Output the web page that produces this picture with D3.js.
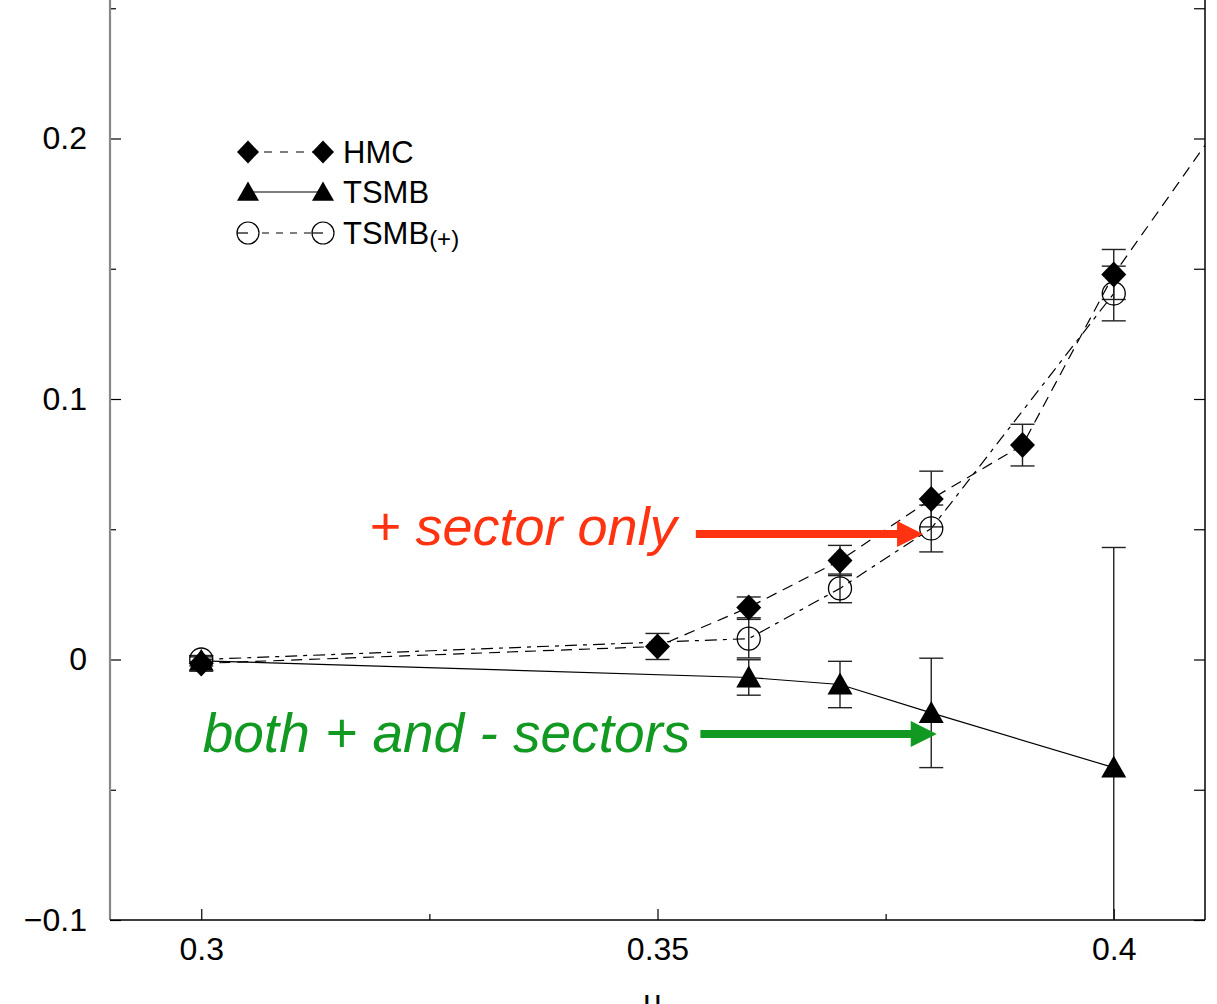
<!DOCTYPE html>
<html>
<head>
<meta charset="utf-8">
<script src="https://cdn.jsdelivr.net/npm/d3@7"></script>
<style>
body { margin: 0; background: #fff; }
svg { display: block; font-family: "Liberation Sans", Arial, Helvetica, sans-serif; }
</style>
</head>
<body>
<svg id="chart" width="1217" height="1004"></svg>
<script>
// values
const hmcX   = [0.30, 0.35, 0.36, 0.37, 0.38, 0.39, 0.40, 0.42];
const hmcY   = [-0.0015, 0.005, 0.020, 0.038, 0.0616, 0.0823, 0.1478, 0.247];
const hmcErr = [0.003, 0.005, 0.004, 0.0058, 0.0107, 0.008, 0.0096, 0];

const tsmbX   = [0.30, 0.36, 0.37, 0.38, 0.40];
const tsmbY   = [-0.0005, -0.0069, -0.0096, -0.0205, -0.0415];
const tsmbErr = [0.002, 0.0068, 0.0089, 0.021, 0.0845];

const plusX   = [0.30, 0.36, 0.37, 0.38, 0.40];
const plusY   = [0.0, 0.008, 0.0273, 0.0503, 0.1405];
const plusErr = [0.001, 0.0074, 0.0055, 0.009, 0.0105];

const xTicks = [0.3, 0.35, 0.4];
const xTickLabels = ["0.3", "0.35", "0.4"];
const xMinor = [0.325, 0.375];
const yTicks = [-0.1, 0, 0.1, 0.2];
const yTickLabels = ["\u22120.1", "0", "0.1", "0.2"];
const yMinor = [-0.05, 0.05, 0.15, 0.25];

const svg = d3.select("#chart");

// plot frame (top edge is cut off in the original)
const left = 110, right = 1205, bottom = 920;
const x = d3.scaleLinear().domain([0.29, 0.41]).range([left, right]);
const y = d3.scaleLinear().domain([-0.1, 0.3]).range([bottom, -122]);

function zip(xs, ys, es) {
    return xs.map((v, i) => ({ x: v, y: ys[i], e: es[i] }));
}
const hmc = zip(hmcX, hmcY, hmcErr);
const tsmb = zip(tsmbX, tsmbY, tsmbErr);
const plus = zip(plusX, plusY, plusErr);

// axes
function styleAxis(g) {
    g.select(".domain").remove();
    g.selectAll(".tick line").attr("stroke", "#000").attr("stroke-width", 1.2);
    g.selectAll(".tick text").attr("font-size", 32).attr("fill", "#000")
        .attr("font-family", "Liberation Sans, Arial, sans-serif");
}

svg.append("g").attr("transform", `translate(0,${bottom})`)
    .call(d3.axisBottom(x).tickValues(xTicks).tickSize(-11).tickPadding(17)
        .tickFormat((d, i) => xTickLabels[i]))
    .call(styleAxis);
svg.append("g").attr("transform", `translate(0,${bottom})`)
    .call(d3.axisBottom(x).tickValues(xMinor).tickSize(-6).tickFormat(""))
    .call(styleAxis);

svg.append("g").attr("transform", `translate(${left},0)`)
    .call(d3.axisLeft(y).tickValues(yTicks).tickSize(-11).tickPadding(23)
        .tickFormat((d, i) => yTickLabels[i]))
    .call(styleAxis);
svg.append("g").attr("transform", `translate(${left},0)`)
    .call(d3.axisLeft(y).tickValues(yMinor).tickSize(-6).tickFormat(""))
    .call(styleAxis);

svg.append("g").attr("transform", `translate(${right},0)`)
    .call(d3.axisRight(y).tickValues(yTicks.concat(yMinor)).tickSize(-11).tickFormat(""))
    .call(styleAxis);

// frame lines
svg.append("line").attr("x1", left).attr("x2", left).attr("y1", 0).attr("y2", bottom)
    .attr("stroke", "#888").attr("stroke-width", 2.2);
svg.append("line").attr("x1", left).attr("x2", right).attr("y1", bottom).attr("y2", bottom)
    .attr("stroke", "#000").attr("stroke-width", 1.5);
svg.append("line").attr("x1", right).attr("x2", right).attr("y1", 0).attr("y2", bottom)
    .attr("stroke", "#000").attr("stroke-width", 1.5);

// x label, mostly cropped at the bottom as in the original
svg.append("text").attr("x", (left + right) / 2 - 5).attr("y", 1012)
    .attr("text-anchor", "middle").attr("font-size", 32).text("\u03bc");

svg.append("clipPath").attr("id", "clip")
    .append("rect").attr("x", left).attr("y", -200).attr("width", right - left).attr("height", bottom + 200);

const plot = svg.append("g").attr("clip-path", "url(#clip)");

const line = d3.line().x(d => x(d.x)).y(d => y(d.y));

plot.append("path").datum(tsmb).attr("d", line)
    .attr("fill", "none").attr("stroke", "#000").attr("stroke-width", 1.2);
plot.append("path").datum(hmc).attr("d", line)
    .attr("fill", "none").attr("stroke", "#000").attr("stroke-width", 1.2)
    .attr("stroke-dasharray", "11,7");
plot.append("path").datum(plus).attr("d", line)
    .attr("fill", "none").attr("stroke", "#000").attr("stroke-width", 1.2)
    .attr("stroke-dasharray", "12,6,4,6");

// error bars
function errorBars(data) {
    const g = plot.append("g").attr("stroke", "#222").attr("stroke-width", 1.4);
    data.filter(d => d.e > 0).forEach(d => {
        const cx = x(d.x), y0 = y(d.y - d.e), y1 = y(d.y + d.e);
        g.append("line").attr("x1", cx).attr("x2", cx).attr("y1", y0).attr("y2", y1);
        g.append("line").attr("x1", cx - 12).attr("x2", cx + 12).attr("y1", y0).attr("y2", y0);
        g.append("line").attr("x1", cx - 12).attr("x2", cx + 12).attr("y1", y1).attr("y2", y1);
    });
}
errorBars(tsmb);
errorBars(hmc);
errorBars(plus);

const diamond = "M0,-13L12.5,0L0,13L-12.5,0Z";
const triangle = "M0,-12L12.5,10L-12.5,10Z";

plot.append("g").selectAll("path").data(tsmb).enter().append("path")
    .attr("d", triangle).attr("transform", d => `translate(${x(d.x)},${y(d.y)})`)
    .attr("fill", "#000");
plot.append("g").selectAll("path").data(hmc).enter().append("path")
    .attr("d", diamond).attr("transform", d => `translate(${x(d.x)},${y(d.y)})`)
    .attr("fill", "#000");
plot.append("g").selectAll("circle").data(plus).enter().append("circle")
    .attr("cx", d => x(d.x)).attr("cy", d => y(d.y)).attr("r", 11.5)
    .attr("fill", "none").attr("stroke", "#000").attr("stroke-width", 1.3);

// legend
const legend = svg.append("g");
const lx0 = 248, lx1 = 323;
function legendRow(yy, dash, shape, label, sub) {
    legend.append("line").attr("x1", lx0).attr("x2", lx1).attr("y1", yy).attr("y2", yy)
        .attr("stroke", "#000").attr("stroke-width", 1.2).attr("stroke-dasharray", dash);
    [lx0, lx1].forEach(px => {
        if (shape === "circle") {
            legend.append("circle").attr("cx", px).attr("cy", yy).attr("r", 11)
                .attr("fill", "#fff").attr("stroke", "#000").attr("stroke-width", 1.2);
            legend.append("line").attr("x1", px - 11).attr("x2", px).attr("y1", yy).attr("y2", yy)
                .attr("stroke", "#000").attr("stroke-width", 1.2);
        } else {
            legend.append("path").attr("d", shape === "diamond" ? diamond : triangle)
                .attr("transform", `translate(${px},${yy}) scale(0.88)`).attr("fill", "#000");
        }
    });
    const t = legend.append("text").attr("x", 343).attr("y", yy + 11).attr("font-size", 31).text(label);
    if (sub) t.append("tspan").attr("font-size", 24).attr("dy", 3).text(sub);
}
legendRow(152, "8,8", "diamond", "HMC");
legendRow(192, null, "triangle", "TSMB");
legendRow(233, "7,7", "circle", "TSMB", "(+)");

// annotations
const redText = "+ sector only", greenText = "both + and - sectors";
function annotate(label, color, tx, ty, ax0, ax1, ay, size) {
    svg.append("text").attr("x", x(tx)).attr("y", y(ty))
        .attr("text-anchor", "end").attr("font-style", "italic")
        .attr("font-size", size).attr("fill", color).text(label);
    const px0 = x(ax0), px1 = x(ax1), py = y(ay);
    svg.append("line").attr("x1", px0).attr("x2", px1 - 24).attr("y1", py).attr("y2", py)
        .attr("stroke", color).attr("stroke-width", 8);
    svg.append("path")
        .attr("d", `M${px1 - 26},${py - 13}L${px1},${py}L${px1 - 26},${py + 13}Z`)
        .attr("fill", color);
}
annotate(redText, "#ff3311", 0.3521, 0.044, 0.3542, 0.3791, 0.0482, 54);
annotate(greenText, "#119922", 0.3536, -0.0355, 0.3547, 0.3806, -0.0286, 55);
</script>
</body>
</html>
